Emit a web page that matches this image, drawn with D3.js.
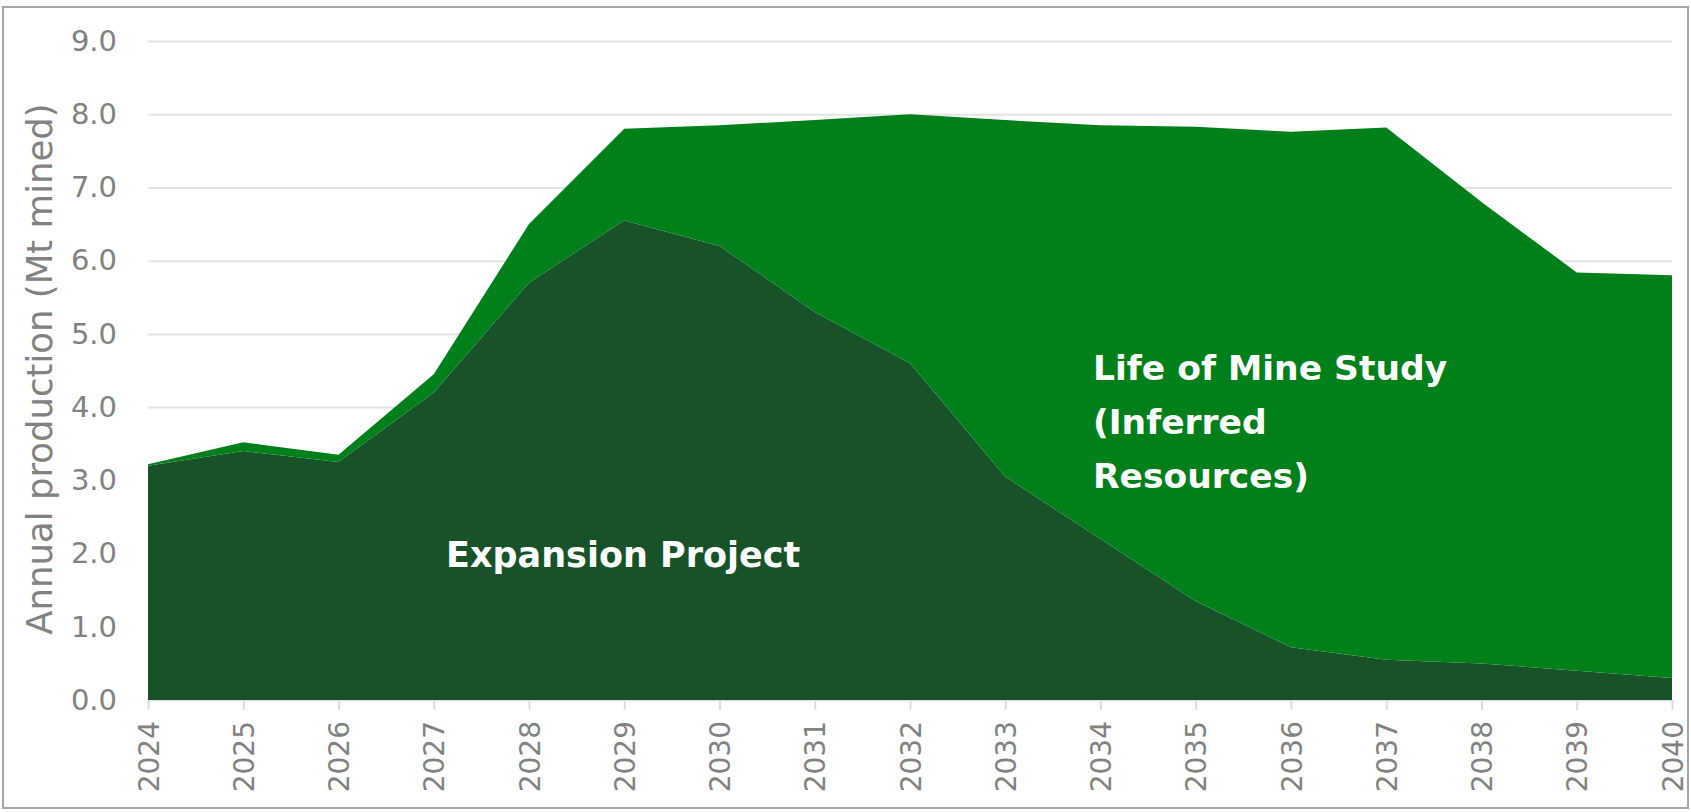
<!DOCTYPE html>
<html lang="en">
<head>
  <meta charset="UTF-8">
  <title>Annual production</title>
  <style>
    body { margin: 0; background: #fff; }
    svg text { font-family: "DejaVu Sans", Verdana, sans-serif; }
  </style>
</head>
<body>
  <script src="https://d3js.org/d3.v7.min.js"></script>
  <div id="chart"></div>

  <script>
    const years = ['2024', '2025', '2026', '2027', '2028', '2029', '2030', '2031', '2032',
                   '2033', '2034', '2035', '2036', '2037', '2038', '2039', '2040']
    // Mt mined per year
    const expansion = [3.2, 3.4, 3.25, 4.2, 5.7, 6.55, 6.2, 5.3, 4.6,
                       3.05, 2.2, 1.35, 0.72, 0.55, 0.5, 0.4, 0.3]
    const lifeOfMine = [0.02, 0.12, 0.1, 0.25, 0.8, 1.25, 1.65, 2.62, 3.4,
                        4.87, 5.65, 6.48, 7.04, 7.27, 6.3, 5.44, 5.5]
    const yTicks = [0, 1, 2, 3, 4, 5, 6, 7, 8, 9]

    const W = 1691, H = 812
    const margin = {top: 41, right: 19, bottom: 112, left: 148}
    const width = W - margin.left - margin.right
    const height = H - margin.top - margin.bottom

    const rows = years.map((y, i) => ({year: y, expansion: expansion[i], lom: lifeOfMine[i]}))
    const series = d3.stack().keys(['expansion', 'lom'])(rows)

    const x = d3.scalePoint().domain(years).range([0, width])
    const y = d3.scaleLinear().domain([0, 9]).range([height, 0])

    const svg = d3.select('#chart')
      .append('svg')
      .attr('width', W)
      .attr('height', H)

    // outer frame
    svg.append('rect')
      .attr('x', 3).attr('y', 7)
      .attr('width', W - 6).attr('height', H - 11)
      .attr('fill', 'none')
      .attr('stroke', '#a6a6a6')
      .attr('stroke-width', 2)

    const g = svg.append('g')
      .attr('transform', `translate(${margin.left}, ${margin.top})`)

    // y axis + gridlines
    const yAxis = g.append('g')
      .call(d3.axisLeft(y).tickValues(yTicks).tickFormat(d3.format('.1f'))
        .tickSizeInner(-width).tickSizeOuter(0).tickPadding(31))
    yAxis.select('.domain').remove()
    yAxis.selectAll('line').attr('stroke', '#e3e3e3').attr('stroke-width', 2)
    yAxis.selectAll('text')
      .attr('fill', '#828282')
      .style('font-size', '29px')

    // areas
    const colours = {expansion: '#175228', lom: '#00801a'}
    const area = d3.area()
      .x(d => x(d.data.year))
      .y0(d => y(d[0]))
      .y1(d => y(d[1]))

    g.selectAll('path.layer')
      .data(series)
      .join('path')
      .attr('class', 'layer')
      .attr('d', area)
      .attr('fill', d => colours[d.key])

    // x axis
    const xAxis = g.append('g')
      .attr('transform', `translate(0, ${height})`)
      .call(d3.axisBottom(x).tickSizeInner(10).tickSizeOuter(0))
    xAxis.select('.domain').remove()
    xAxis.selectAll('line').attr('stroke', '#dcdcdc').attr('stroke-width', 2)
    xAxis.selectAll('text')
      .attr('fill', '#828282')
      .style('font-size', '28px')
      .attr('text-anchor', 'end')
      .attr('transform', 'rotate(-90)')
      .attr('x', -21)
      .attr('y', 0)
      .attr('dy', '0.36em')

    // y axis title
    svg.append('text')
      .attr('transform', 'translate(52, 369) rotate(-90)')
      .attr('text-anchor', 'middle')
      .attr('fill', '#828282')
      .style('font-size', '35.5px')
      .text('Annual production (Mt mined)')

    // labels on the areas
    svg.append('text')
      .attr('x', 446).attr('y', 567)
      .attr('fill', '#fff')
      .style('font-size', '35px')
      .style('font-weight', 'bold')
      .text('Expansion Project')

    const lomLines = ['Life of Mine Study', '(Inferred', 'Resources)']
    svg.append('text')
      .attr('fill', '#fff')
      .style('font-size', '34.5px')
      .style('font-weight', 'bold')
      .selectAll('tspan')
      .data(lomLines)
      .join('tspan')
      .attr('x', 1093)
      .attr('y', (d, i) => 380 + i * 54)
      .text(d => d)
  </script>
</body>
</html>
